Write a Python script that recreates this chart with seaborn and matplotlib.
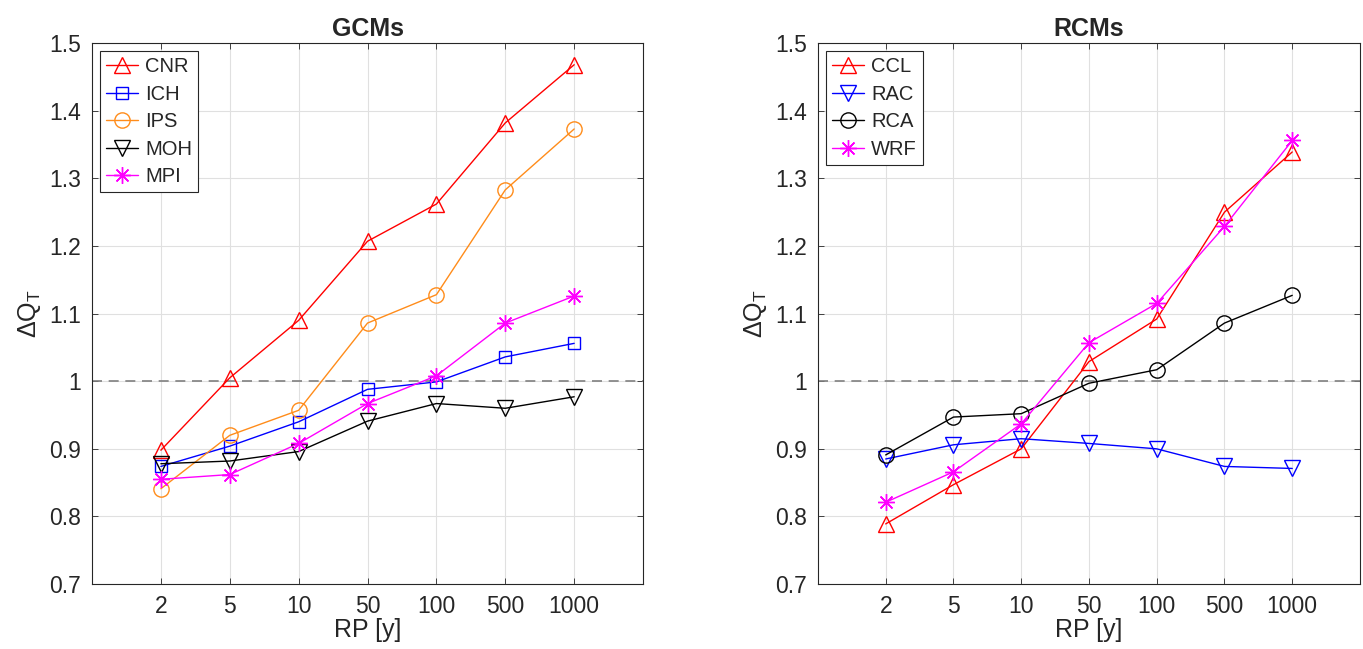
import numpy as np
import pandas as pd
import matplotlib
matplotlib.use("Agg")
import matplotlib.pyplot as plt
import seaborn as sns

rp_labels = ["2", "5", "10", "50", "100", "500", "1000"]

# GCMs
cnr = [0.898, 1.005, 1.090, 1.207, 1.262, 1.382, 1.468]
ich = [0.874, 0.904, 0.940, 0.988, 0.999, 1.036, 1.056]
ips = [0.841, 0.920, 0.957, 1.086, 1.128, 1.283, 1.373]
moh = [0.878, 0.882, 0.896, 0.941, 0.967, 0.960, 0.977]
mpi = [0.855, 0.862, 0.908, 0.967, 1.008, 1.086, 1.126]

# RCMs
ccl = [0.789, 0.847, 0.900, 1.029, 1.092, 1.250, 1.339]
rac = [0.885, 0.906, 0.915, 0.908, 0.900, 0.874, 0.871]
rca = [0.891, 0.947, 0.952, 0.997, 1.017, 1.086, 1.127]
wrf = [0.821, 0.866, 0.937, 1.057, 1.115, 1.229, 1.356]

gcm_names = ["CNR", "ICH", "IPS", "MOH", "MPI"]
rcm_names = ["CCL", "RAC", "RCA", "WRF"]

sns.set_theme(style="white")
plt.rcParams['font.family'] = ['Liberation Sans', 'DejaVu Sans']
plt.rcParams['mathtext.fontset'] = 'custom'
plt.rcParams['mathtext.rm'] = 'Liberation Sans'
plt.rcParams['mathtext.it'] = 'Liberation Sans'

RED = (1, 0, 0)
BLUE = (0, 0, 1)
ORANGE = (1, 0.55, 0.1)
BLACK = (0, 0, 0)
MAGENTA = (1, 0, 1)
AST = (8, 2, 0)
TXT = (0.15, 0.15, 0.15)

fig = plt.figure(figsize=(13.63, 6.49), dpi=100)
ax1 = fig.add_axes([0.0675, 0.100, 0.4043, 0.8336])
ax2 = fig.add_axes([0.6001, 0.100, 0.3977, 0.8336])

xpos = np.arange(1, len(rp_labels) + 1)

def draw(ax, names, series, styles, title):
    for name, vals, (color, marker, ms) in zip(names, series, styles):
        df = pd.DataFrame({"x": xpos, "y": vals})
        sns.lineplot(data=df, x="x", y="y", ax=ax, color=color, marker=marker,
                     markersize=ms, markerfacecolor='none', markeredgecolor=color,
                     markeredgewidth=1.0, linewidth=1.0, label=name)
    ax.axhline(1.0, color=(0.5, 0.5, 0.5), linestyle=(0, (6, 4)), linewidth=1.2, zorder=1)
    ax.set_xlim(0, 8)
    ax.set_ylim(0.7, 1.5)
    ax.set_xticks(xpos)
    ax.set_xticklabels(rp_labels)
    ax.set_yticks([0.7, 0.8, 0.9, 1.0, 1.1, 1.2, 1.3, 1.4, 1.5])
    ax.set_yticklabels(["0.7", "0.8", "0.9", "1", "1.1", "1.2", "1.3", "1.4", "1.5"])
    ax.grid(True, color=(0.88, 0.88, 0.88), linewidth=0.8)
    ax.set_axisbelow(True)
    for sp in ax.spines.values():
        sp.set_color(TXT)
        sp.set_linewidth(0.8)
    ax.tick_params(direction='in', length=4, width=0.6, color=TXT,
                   labelsize=16.5, labelcolor=TXT,
                   top=True, right=True, bottom=True, left=True, pad=8)
    ax.set_xlabel("RP [y]", fontsize=18, color=TXT, labelpad=0)
    ax.set_ylabel(r"$\Delta$Q$_\mathregular{T}$", fontsize=18, color=TXT, labelpad=4)
    ax.set_title(title, fontsize=18, fontweight='bold', pad=5)
    leg = ax.legend(loc='upper left', fontsize=14.5, frameon=True, fancybox=False,
                    edgecolor=TXT, handlelength=1.6, handletextpad=0.35,
                    borderpad=0.3, labelspacing=0.42, borderaxespad=0.4)
    leg.get_frame().set_linewidth(0.8)
    leg.get_frame().set_alpha(1)

draw(ax1, gcm_names, [cnr, ich, ips, moh, mpi],
     [(RED, '^', 11), (BLUE, 's', 9), (ORANGE, 'o', 11), (BLACK, 'v', 11), (MAGENTA, AST, 12)],
     "GCMs")
draw(ax2, rcm_names, [ccl, rac, rca, wrf],
     [(RED, '^', 11), (BLUE, 'v', 11), (BLACK, 'o', 11), (MAGENTA, AST, 12)],
     "RCMs")

fig.savefig("out.png", dpi=100)
